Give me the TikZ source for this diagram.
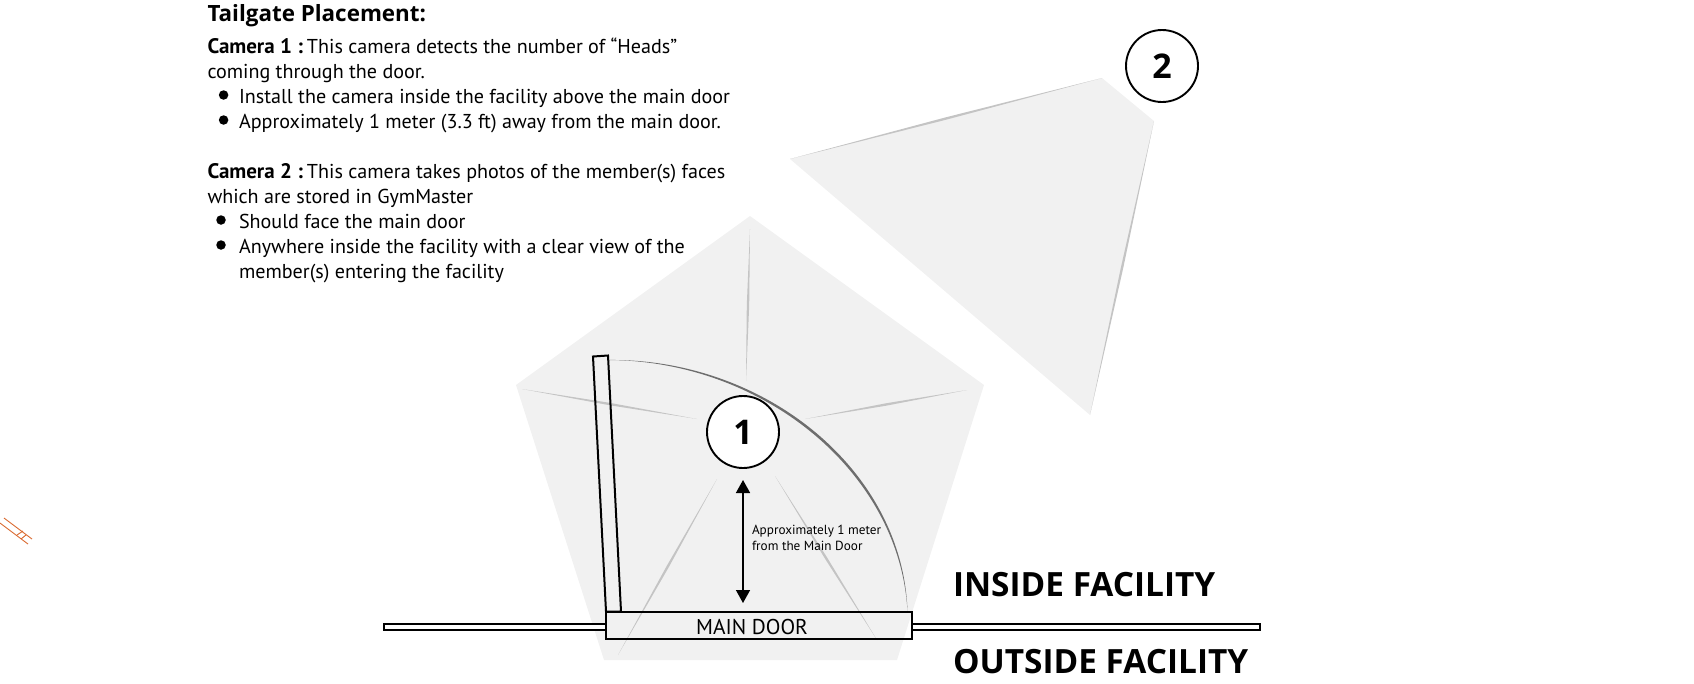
\documentclass[tikz,border=0pt]{standalone}
\usepackage{fontspec}
\setmainfont{PT Sans}
\newfontfamily\heavyfont{Open Sans}
\usetikzlibrary{arrows.meta,calc}
\definecolor{zonegrey}{HTML}{F1F1F1}
\definecolor{raygrey}{HTML}{C4C4C4}
\definecolor{swinggrey}{HTML}{6E6E6E}
\definecolor{strayorange}{HTML}{D9692F}
\newcommand{\taper}[3][1.2pt]{\fill[raygrey] (#2) -- ($(#2)!.5!(#3)!#1!90:(#3)$) -- (#3) -- ($(#2)!.5!(#3)!#1!-90:(#3)$) -- cycle;}
\newcommand{\camlabel}[1]{{\fontsize{21}{25}\selectfont\bfseries #1 :}\hspace{0.2em}}
\tikzset{
  x=1pt,y=-1pt,
  bodytext/.style={anchor=base west,inner sep=0pt,outer sep=0pt,font=\fontsize{20.1}{25}\selectfont},
  headtext/.style={anchor=base west,inner sep=0pt,outer sep=0pt,font=\fontsize{33.4}{40}\selectfont\heavyfont\bfseries},
  titletext/.style={anchor=base west,inner sep=0pt,outer sep=0pt,font=\fontsize{22.4}{28}\selectfont\heavyfont\bfseries},
  smalltext/.style={anchor=base west,inner sep=0pt,outer sep=0pt,font=\fontsize{13.2}{15}\selectfont},
  camera/.style={circle,draw=black,fill=white,line width=1.9pt,minimum size=72pt,inner sep=0pt,font=\fontsize{34}{40}\selectfont\heavyfont\bfseries},
  bulletdot/.style={circle,fill=black,minimum size=9.5pt,inner sep=0pt},
  wall/.style={draw=black,fill=white,line width=2pt},
  doorline/.style={draw=black,line width=2pt},
  stray/.style={draw=strayorange,line width=0.9pt},
}
\begin{document}
\begin{tikzpicture}
\useasboundingbox (0,0) rectangle (1694,683);
% coverage zones
\coordinate (pa) at (750,216);
\coordinate (pb) at (984,385);
\coordinate (pc) at (897,660);
\coordinate (pd) at (604,660);
\coordinate (pe) at (516,385);
\fill[zonegrey] (pa) -- (pb) -- (pc) -- (pd) -- (pe) -- cycle;
\coordinate (qa) at (1102,78);
\coordinate (qb) at (1154,121);
\coordinate (qc) at (1090,415);
\coordinate (qd) at (790,159);
\fill[zonegrey] (qa) -- (qb) -- (qc) -- (qd) -- cycle;
% rays
\coordinate (r1a) at (750,229); \coordinate (r1b) at (746,381);
\coordinate (r2a) at (522,389); \coordinate (r2b) at (697,419);
\coordinate (r3a) at (967,390); \coordinate (r3b) at (805,419);
\coordinate (r4a) at (618,655); \coordinate (r4b) at (717,479);
\coordinate (r5a) at (877,640); \coordinate (r5b) at (775,476);
\taper{r1a}{r1b}\taper{r2a}{r2b}\taper{r3a}{r3b}\taper{r4a}{r4b}\taper{r5a}{r5b}
\taper{qa}{qd}\taper{qb}{qc}
% walls
\draw[wall] (383.5,623.5) rectangle (606,630);
\draw[wall] (912,623.5) rectangle (1260,630);
% door
\draw[doorline] (593,356.5) -- (608,355.5) -- (621,611.5) -- (606,611.5) -- cycle;
\fill[swinggrey] (608,360) .. controls (765,358) and (903,470) .. (907.5,611.5)
             .. controls (900,472) and (763,360.5) .. (608,360) -- cycle;
\node[doorline,minimum width=306pt,minimum height=27pt,inner sep=0pt,outer sep=0pt,anchor=north west] (door) at (606,611.5) {};
\node[inner sep=0pt,font=\fontsize{21.4}{25}\selectfont] (doorlabel) at (752,627) {MAIN DOOR};
% cameras
\node[camera] (cam1) at (743,432) {1};
\node[camera] (cam2) at (1162,66) {2};
\coordinate (armtop) at (743,480);
\coordinate (armbot) at (743,603);
\draw[line width=1.5pt,{Triangle[length=13pt,width=14pt]}-{Triangle[length=13pt,width=14pt]}] (armtop) -- (armbot);
\node[smalltext] (note1) at (752,534) {Approximately 1 meter};
\node[smalltext] (note2) at (752,550) {from the Main Door};
% text
\node[titletext] (title) at (207.5,21) {Tailgate Placement:};
\node[bodytext] (t1) at (207.5,53) {\camlabel{Camera 1}This camera detects the number of “Heads”};
\node[bodytext] (t2) at (207.5,78) {coming through the door.};
\node[bulletdot] (b1) at (223.6,95) {};
\node[bodytext] (t3) at (239,103) {Install the camera inside the facility above the main door};
\node[bulletdot] (b2) at (223.6,120) {};
\node[bodytext] (t4) at (239,128) {Approximately 1 meter (3.3 ft) away from the main door.};
\node[bodytext] (t5) at (207.5,178) {\camlabel{Camera 2}This camera takes photos of the member(s) faces};
\node[bodytext] (t6) at (207.5,203) {which are stored in GymMaster};
\node[bulletdot] (b3) at (221,220) {};
\node[bodytext] (t7) at (239,228) {Should face the main door};
\node[bulletdot] (b4) at (221,245) {};
\node[bodytext] (t8) at (239,253) {Anywhere inside the facility with a clear view of the};
\node[bodytext] (t9) at (239,278) {member(s) entering the facility};
\node[headtext] (inside) at (953,596) {INSIDE FACILITY};
\node[headtext] (outside) at (953,673) {OUTSIDE FACILITY};
% stray mark
\draw[stray] (4,518) -- (32,539);
\draw[stray] (0,523) -- (28,544);
\draw[stray] (17,535) -- (23,531);
\draw[stray] (21,539) -- (26,535);
\end{tikzpicture}
\end{document}
